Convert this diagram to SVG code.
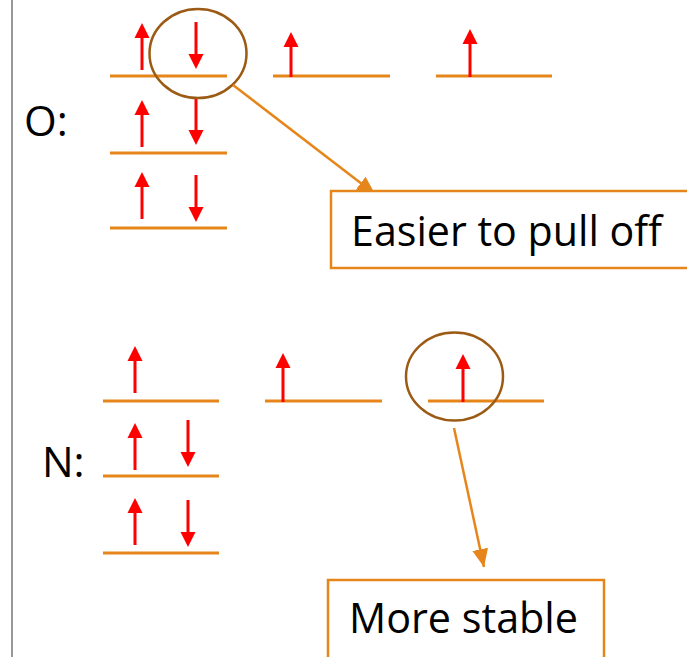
<svg xmlns="http://www.w3.org/2000/svg" width="687" height="657" viewBox="0 0 687 657">
<defs>
<style>
.lvl{stroke:#E6861A;stroke-width:3;fill:none}
.sp{stroke:#FF0000;stroke-width:3;fill:none}
.hd{fill:#FF0000}
.ring{stroke:#9C5B14;stroke-width:2.5;fill:none}
.con{stroke:#E6861A;stroke-width:2.5;fill:none}
.box{stroke:#E6861A;stroke-width:2.5;fill:#FFFFFF}
.lbl{font-family:"Open Sans","Liberation Sans",sans-serif;font-size:42px;fill:#000000}
</style>
<marker id="ah" markerUnits="userSpaceOnUse" markerWidth="20" markerHeight="20" viewBox="0 0 20 20" refX="18" refY="10" orient="auto">
<path d="M0,2 L18,10 L0,18 Z" fill="#E6861A"/>
</marker>
<g id="up"><line class="sp" x1="0" y1="14" x2="0" y2="47"/><path class="hd" d="M0,0 L7.5,15 L-7.5,15 Z"/></g>
<g id="dn"><line class="sp" x1="0" y1="0" x2="0" y2="33"/><path class="hd" d="M0,47 L7.5,32 L-7.5,32 Z"/></g>
</defs>
<rect width="687" height="657" fill="#FFFFFF"/>
<line x1="12" y1="0" x2="12" y2="657" stroke="#999999" stroke-width="2"/>

<g id="oxygen">
<text class="lbl" x="24" y="136">O:</text>
<g id="o-row1">
<line class="lvl" x1="110" y1="76" x2="227" y2="76"/>
<line class="lvl" x1="273" y1="76" x2="390" y2="76"/>
<line class="lvl" x1="436" y1="76" x2="552" y2="76"/>
<use href="#up" x="142" y="23"/>
<use href="#dn" x="196" y="22"/>
<line class="sp" x1="291" y1="46" x2="291" y2="77"/><path class="hd" d="M291,32 L298.5,47 L283.5,47 Z"/>
<line class="sp" x1="470" y1="43" x2="470" y2="77"/><path class="hd" d="M470,29 L477.5,44 L462.5,44 Z"/>
</g>
<g id="o-row2">
<line class="lvl" x1="110" y1="153" x2="227" y2="153"/>
<use href="#up" x="142" y="100"/>
<use href="#dn" x="196" y="98"/>
</g>
<g id="o-row3">
<line class="lvl" x1="110" y1="228" x2="227" y2="228"/>
<use href="#up" x="142" y="172"/>
<use href="#dn" x="196" y="175"/>
</g>
<ellipse id="o-ring" class="ring" cx="198" cy="53.5" rx="48.5" ry="44.5"/>
</g>

<g id="nitrogen">
<text class="lbl" x="42" y="477">N:</text>
<g id="n-row1">
<line class="lvl" x1="103" y1="401" x2="219" y2="401"/>
<line class="lvl" x1="265" y1="401" x2="382" y2="401"/>
<line class="lvl" x1="428" y1="401" x2="544" y2="401"/>
<use href="#up" x="135" y="346"/>
<line class="sp" x1="283" y1="367" x2="283" y2="402"/><path class="hd" d="M283,353 L290.5,368 L275.5,368 Z"/>
<line class="sp" x1="463" y1="368" x2="463" y2="402"/><path class="hd" d="M463,354 L470.5,369 L455.5,369 Z"/>
</g>
<g id="n-row2">
<line class="lvl" x1="103" y1="476" x2="219" y2="476"/>
<use href="#up" x="135" y="423"/>
<use href="#dn" x="188" y="420"/>
</g>
<g id="n-row3">
<line class="lvl" x1="103" y1="553" x2="219" y2="553"/>
<use href="#up" x="135" y="498"/>
<use href="#dn" x="188" y="500"/>
</g>
<ellipse id="n-ring" class="ring" cx="454.5" cy="376.5" rx="48.5" ry="44"/>
</g>

<g id="connectors">
<line class="con" x1="233" y1="85" x2="375" y2="194" marker-end="url(#ah)"/>
<line class="con" x1="454" y1="428" x2="484" y2="567" marker-end="url(#ah)"/>
</g>

<g id="box-easier">
<rect class="box" x="331" y="191" width="370" height="77"/>
<text class="lbl" x="351" y="246" textLength="311" lengthAdjust="spacingAndGlyphs">Easier to pull off</text>
</g>
<g id="box-stable">
<rect class="box" x="328" y="580" width="276" height="90"/>
<text class="lbl" x="349" y="633" textLength="229" lengthAdjust="spacingAndGlyphs">More stable</text>
</g>
</svg>
